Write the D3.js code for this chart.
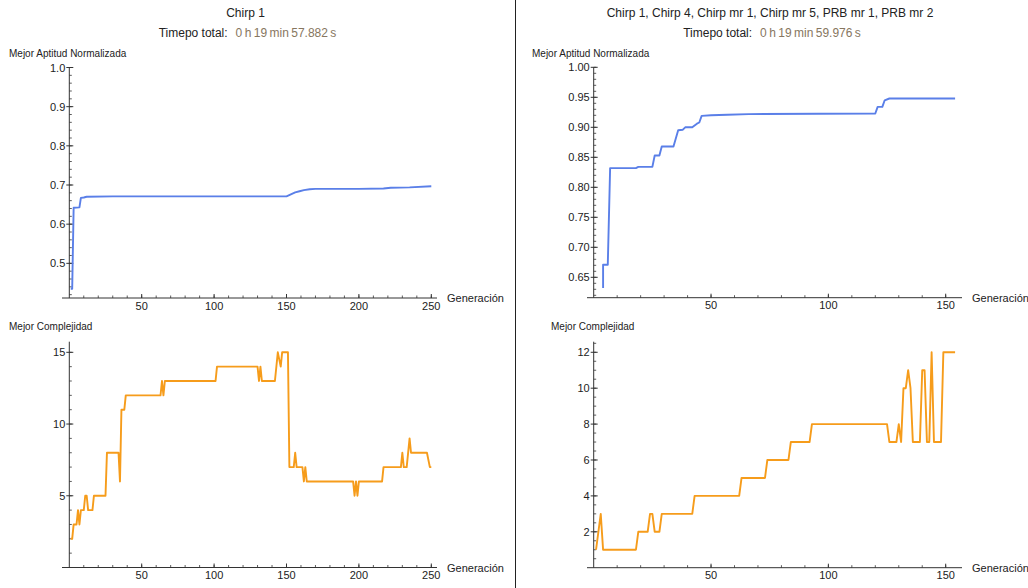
<!DOCTYPE html>
<html>
<head>
<meta charset="utf-8">
<script src="https://cdn.jsdelivr.net/npm/d3@7"></script>
<style>
  body { margin: 0; background: #fff; }
  svg text { font-family: "Liberation Sans", Arial, sans-serif; fill: #222; }
</style>
</head>
<body>
<div id="chart"></div>
<script>
"use strict";

// ---- data ----
var TITLES = ["Chirp 1", "Chirp 1, Chirp 4, Chirp mr 1, Chirp mr 5, PRB mr 1, PRB mr 2"];
var TIMES = ["0\u2009h\u200919\u2009min\u200957.882\u2009s", "0\u2009h\u200919\u2009min\u200959.976\u2009s"];

// left run: [generation, best normalized fitness]
var fitLeft = [[1,0.435],[2,0.435],[3,0.642],[7,0.643],[8,0.667],[10,0.668],[12,0.670],[30,0.671],
  [150,0.671],[153,0.676],[156,0.681],[159,0.684],[162,0.687],[166,0.689],[170,0.690],[200,0.690],
  [217,0.691],[222,0.693],[235,0.694],[250,0.697]];

// left run: [generation, best complexity]
var cxLeft = [[1,2],[2,2],[3,3],[5,3],[6,4],[7,3],[8,4],[10,4],[11,5],[12,5],[13,4],[16,4],[17,5],
  [25,5],[26,8],[34,8],[35,6],[36,11],[38,11],[39,12],[63,12],[64,13],[65,12],[66,13],[101,13],
  [102,14],[130,14],[131,13],[132,14],[133,13],[142,13],[144,15],[146,14],[147,15],[151,15],[152,7],
  [155,7],[156,8],[157,7],[161,7],[162,6],[163,7],[164,6],[196,6],[197,5],[198,6],[199,5],[200,6],
  [216,6],[217,7],[229,7],[230,8],[231,7],[233,7],[235,9],[236,8],[247,8],[249,7],[250,7]];

// right run
var fitRight = [[4,0.632],[4,0.671],[6,0.671],[7,0.832],[18,0.832],[19,0.834],[25,0.834],[26,0.853],
  [28,0.853],[29,0.868],[34,0.868],[36,0.895],[38,0.896],[39,0.900],[42,0.900],[44,0.906],[45,0.908],
  [46,0.919],[50,0.920],[57,0.921],[66,0.922],[120,0.923],[121,0.934],[123,0.934],[124,0.945],
  [126,0.948],[154,0.948]];

var cxRight = [[1,1],[3,3],[4,1],[18,1],[19,2],[23,2],[24,3],[25,3],[26,2],[28,2],[29,3],[42,3],
  [43,4],[62,4],[63,5],[73,5],[74,6],[83,6],[84,7],[92,7],[93,8],[125,8],[126,7],[129,7],[130,8],
  [131,7],[132,10],[133,10],[134,11],[135,10],[136,7],[139,7],[140,11],[141,11],[142,7],[143,7],
  [144,12],[145,7],[148,7],[149,12],[154,12]];

// ticks
var xMajorLeft = [50, 100, 150, 200, 250];
var xMajorRight = [50, 100, 150];
var fitTicksLeft = [0.5, 0.6, 0.7, 0.8, 0.9, 1.0];
var fitTicksRight = [0.65, 0.70, 0.75, 0.80, 0.85, 0.90, 0.95, 1.00];
var cxTicksLeft = [5, 10, 15];
var cxTicksRight = [2, 4, 6, 8, 10, 12];

var BLUE = "#5a7fe8";
var ORANGE = "#f69c1b";
var AXIS = "#333";

var width = 1028, height = 588;

var svg = d3.select("#chart").append("svg")
  .attr("width", width)
  .attr("height", height);

function range(a, b, step) {
  var out = [];
  for (var v = a; v <= b + 1e-9; v += step) out.push(+v.toFixed(4));
  return out;
}

// one panel = one plot with Mathematica style axes through the origin corner
function drawPanel(p) {
  var x = d3.scaleLinear().domain(p.xDomain).range(p.xRange);
  var y = d3.scaleLinear().domain(p.yDomain).range(p.yRange);
  var g = svg.append("g");
  var y0 = p.yRange[0], x0 = x(0);

  // x axis
  g.append("line").attr("x1", p.xAxisStart).attr("x2", p.xAxisEnd)
    .attr("y1", y0).attr("y2", y0).attr("stroke", AXIS).attr("stroke-width", 1);
  g.selectAll(".xminor").data(p.xMinor).enter().append("line")
    .attr("x1", function(d) { return x(d); }).attr("x2", function(d) { return x(d); })
    .attr("y1", y0).attr("y2", y0 - 2.5).attr("stroke", AXIS).attr("stroke-width", 0.8);
  g.selectAll(".xmajor").data(p.xMajor).enter().append("line")
    .attr("x1", function(d) { return x(d); }).attr("x2", function(d) { return x(d); })
    .attr("y1", y0).attr("y2", y0 - 4).attr("stroke", AXIS).attr("stroke-width", 1);
  g.selectAll(".xlab").data(p.xMajor).enter().append("text")
    .attr("x", function(d) { return x(d); }).attr("y", y0 + 11.5)
    .attr("text-anchor", "middle").attr("font-size", 11)
    .text(function(d) { return d; });
  g.append("text").attr("x", p.xAxisEnd + 10).attr("y", y0 + 4)
    .attr("font-size", 11).text("Generación");

  // y axis
  g.append("line").attr("x1", x0).attr("x2", x0)
    .attr("y1", y0).attr("y2", p.yRange[1]).attr("stroke", AXIS).attr("stroke-width", 1);
  g.selectAll(".yminor").data(p.yMinor).enter().append("line")
    .attr("x1", x0).attr("x2", x0 + 2.5)
    .attr("y1", function(d) { return y(d); }).attr("y2", function(d) { return y(d); })
    .attr("stroke", AXIS).attr("stroke-width", 0.8);
  g.selectAll(".ymajor").data(p.yMajor).enter().append("line")
    .attr("x1", x0 - 3).attr("x2", x0 + 4)
    .attr("y1", function(d) { return y(d); }).attr("y2", function(d) { return y(d); })
    .attr("stroke", AXIS).attr("stroke-width", 1);
  g.selectAll(".ylab").data(p.yMajor).enter().append("text")
    .attr("x", x0 - 4).attr("y", function(d) { return y(d) + 4; })
    .attr("text-anchor", "end").attr("font-size", 11)
    .text(function(d) { return p.yFormat(d); });
  g.append("text").attr("x", p.labelX).attr("y", p.labelY)
    .attr("font-size", 10).text(p.label);

  // the series
  var line = d3.line()
    .x(function(d) { return x(d[0]); })
    .y(function(d) { return y(d[1]); });
  g.append("path").datum(p.data)
    .attr("d", line).attr("fill", "none")
    .attr("stroke", p.color).attr("stroke-width", 1.9)
    .attr("stroke-linejoin", "round");
}

var xRangeLeft = [69.3, 431.3];
var xRangeRight = [593.7, 945.7];

drawPanel({
  xDomain: [0, 250], xRange: xRangeLeft, xAxisStart: 62, xAxisEnd: 437,
  xMajor: xMajorLeft, xMinor: range(10, 250, 10),
  yDomain: [0.4115, 1.0], yRange: [298, 67.5],
  yMajor: fitTicksLeft, yMinor: range(0.42, 1.0, 0.02), yFormat: d3.format(".1f"),
  label: "Mejor Aptitud Normalizada", labelX: 9, labelY: 57,
  data: fitLeft, color: BLUE
});
drawPanel({
  xDomain: [0, 250], xRange: xRangeLeft, xAxisStart: 62, xAxisEnd: 437,
  xMajor: xMajorLeft, xMinor: range(10, 250, 10),
  yDomain: [0, 15.74], yRange: [567.5, 341.7],
  yMajor: cxTicksLeft, yMinor: range(1, 15, 1), yFormat: d3.format("d"),
  label: "Mejor Complejidad", labelX: 9, labelY: 330,
  data: cxLeft, color: ORANGE
});
drawPanel({
  xDomain: [0, 150], xRange: xRangeRight, xAxisStart: 587, xAxisEnd: 962,
  xMajor: xMajorRight, xMinor: range(10, 150, 10),
  yDomain: [0.616, 1.0], yRange: [297.7, 67.3],
  yMajor: fitTicksRight, yMinor: range(0.62, 1.0, 0.01), yFormat: d3.format(".2f"),
  label: "Mejor Aptitud Normalizada", labelX: 532, labelY: 57,
  data: fitRight, color: BLUE
});
drawPanel({
  xDomain: [0, 150], xRange: xRangeRight, xAxisStart: 587, xAxisEnd: 962,
  xMajor: xMajorRight, xMinor: range(10, 150, 10),
  yDomain: [0, 12.59], yRange: [567.7, 341.7],
  yMajor: cxTicksRight, yMinor: range(0.5, 12.5, 0.5), yFormat: d3.format("d"),
  label: "Mejor Complejidad", labelX: 551, labelY: 330,
  data: cxRight, color: ORANGE
});

// titles and total time
var titleX = [245.5, 770];
TITLES.forEach(function(t, i) {
  svg.append("text").attr("x", titleX[i]).attr("y", 16.5)
    .attr("text-anchor", "middle").attr("font-size", 12).text(t);
  var tt = svg.append("text").attr("x", titleX[i] + 2).attr("y", 36.5)
    .attr("text-anchor", "middle").attr("font-size", 12);
  tt.append("tspan").text("Timepo total:");
  tt.append("tspan").attr("dx", 8).style("fill", "#877660").text(TIMES[i]);
});

// divider between the two runs
svg.append("line").attr("x1", 515.5).attr("x2", 515.5)
  .attr("y1", 0).attr("y2", height).attr("stroke", "#222").attr("stroke-width", 1);
</script>
</body>
</html>
